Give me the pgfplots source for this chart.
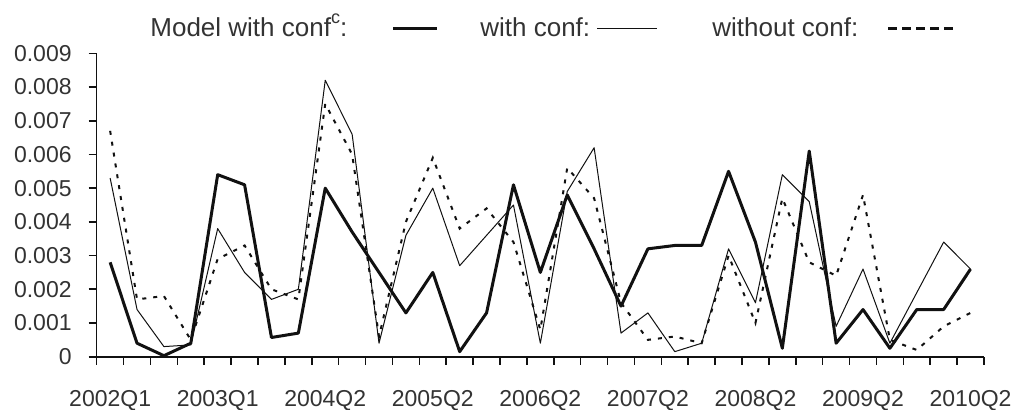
\documentclass[border=0pt]{standalone}
\usepackage{fontspec}
\setmainfont{Liberation Sans}
\usepackage{pgfplots}
\pgfplotsset{compat=1.18}
\definecolor{txt}{HTML}{333333}
\definecolor{ln}{HTML}{111111}

\pgfplotstableread{
i A B C
0 0.0028 0.0053 0.0067
1 0.0004 0.0014 0.0017
2 0.00003 0.0003 0.0018
3 0.0004 0.00035 0.0005
4 0.0054 0.0038 0.0029
5 0.0051 0.0025 0.0033
6 0.00057 0.0017 0.0020
7 0.0007 0.0020 0.0017
8 0.0050 0.0082 0.0075
9 0.0037 0.0066 0.0060
10 0.0025 0.0004 0.0006
11 0.0013 0.0036 0.0040
12 0.0025 0.0050 0.0059
13 0.00015 0.0027 0.0038
14 0.0013 0.0036 0.0044
15 0.0051 0.0045 0.0034
16 0.0025 0.0004 0.0008
17 0.0048 0.0049 0.0056
18 0.0032 0.0062 0.0047
19 0.0015 0.0007 0.0016
20 0.0032 0.0013 0.0005
21 0.0033 0.00015 0.0006
22 0.0033 0.0004 0.0004
23 0.0055 0.0032 0.0030
24 0.0034 0.0016 0.0010
25 0.00025 0.0054 0.0047
26 0.0061 0.0046 0.0028
27 0.0004 0.0009 0.0024
28 0.0014 0.0026 0.0048
29 0.00025 0.0004 0.0005
30 0.0014 0.0019 0.0002
31 0.0014 0.0034 0.0009
32 0.0026 0.0026 0.0013
}\datatable

\begin{document}
\begin{tikzpicture}
\path[use as bounding box] (0pt,0pt) rectangle (509pt,204.5pt);
\begin{axis}[
  at={(48.35pt,26.15pt)}, anchor=south west,
  scale only axis, width=443.65pt, height=151.7pt,
  xmin=-0.5, xmax=32.5, ymin=0, ymax=0.009,
  axis lines*=left,
  axis line style={ln, line width=0.8pt},
  xtick={0,4,8,12,16,20,24,28,32},
  xticklabels={2002Q1,2003Q1,2004Q2,2005Q2,2006Q2,2007Q2,2008Q2,2009Q2,2010Q2},
  minor xtick={-0.5,0.5,...,32.5},
  major x tick style={draw=none},
  minor x tick style={ln, line width=0.8pt},
  ytick={0,0.001,0.002,0.003,0.004,0.005,0.006,0.007,0.008,0.009},
  yticklabels={0,0.001,0.002,0.003,0.004,0.005,0.006,0.007,0.008,0.009},
  major y tick style={ln, line width=0.8pt},
  scaled y ticks=false,
  tick align=outside,
  major tick length=4pt, minor tick length=4pt,
  xticklabel style={font=\fontsize{11.5}{13}\selectfont, text=txt, inner sep=0pt, yshift=-12.6pt},
  yticklabel style={font=\fontsize{11.5}{13}\selectfont, text=txt, inner sep=0pt, xshift=-8.35pt},
  clip=false,
]
\addplot[ln, line width=1.5pt, line join=round] table[x=i, y=A] {\datatable};
\addplot[ln, line width=0.5pt, line join=round] table[x=i, y=B] {\datatable};
\addplot[ln, line width=1pt, dash pattern=on 2pt off 3.5pt] table[x=i, y=C] {\datatable};
\end{axis}
% legend
\begin{scope}[every node/.style={inner sep=0pt, anchor=base west, text=txt, font=\fontsize{13}{15}\selectfont}]
\node at (75pt,186.2pt) {Model with conf\raisebox{0.5em}{\fontsize{9}{9}\selectfont c}:};
\draw[ln, line width=1.5pt] (196.5pt,190.3pt) -- (218.5pt,190.3pt);
\node at (240pt,186.2pt) {with conf:};
\draw[ln, line width=0.5pt] (298.5pt,190.3pt) -- (328.5pt,190.3pt);
\node at (356pt,186.2pt) {without conf:};
\draw[ln, line width=1.3pt, dash pattern=on 4.5pt off 2.5pt] (444pt,190.3pt) -- (477.5pt,190.3pt);
\end{scope}
\end{tikzpicture}
\end{document}
